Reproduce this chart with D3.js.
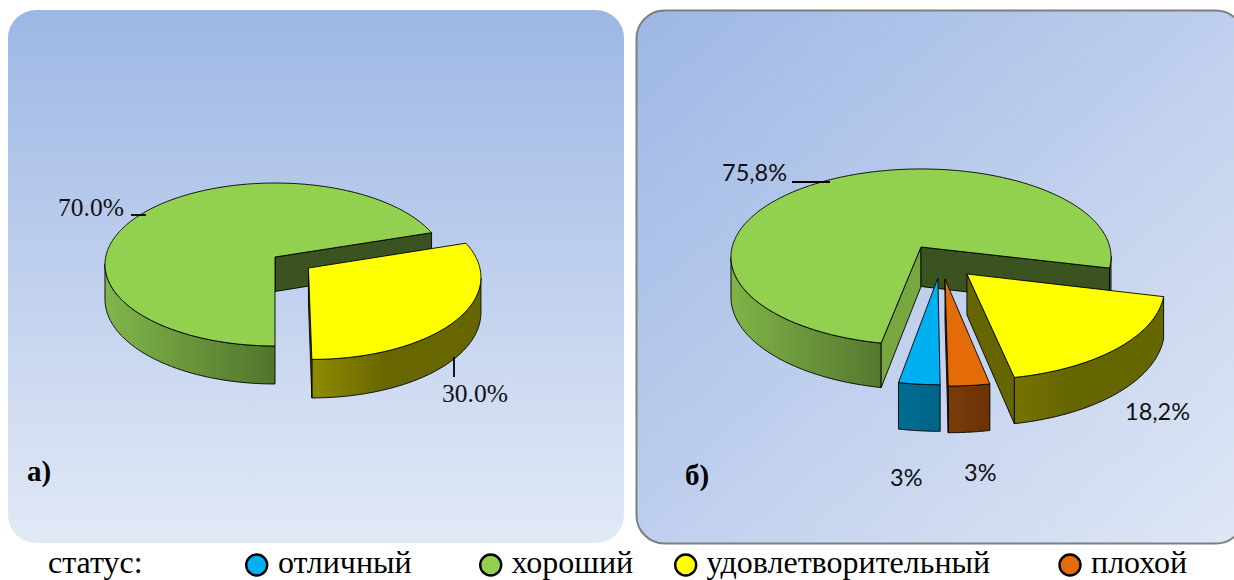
<!DOCTYPE html>
<html lang="ru">
<head>
<meta charset="utf-8">
<script src="https://cdn.jsdelivr.net/npm/d3@7"></script>
<style>
html,body{margin:0;padding:0;background:#fff;overflow:hidden}
svg{display:block}
</style>
</head>
<body>
<svg id="c" width="1234" height="580"></svg>
<script>
// ---- data ----
const categories = ["отличный", "хороший", "удовлетворительный", "плохой"];
const valuesA = [0, 70, 30, 0];
const valuesB = [3, 75.8, 18.2, 3];
const labelsA = ["", "70.0%", "30.0%", ""];
const labelsB = ["3%", "75,8%", "18,2%", "3%"];
const legendTitle = "статус:";
const colors = ["#00B0F0", "#92D050", "#FFFF00", "#E36C09"];

// ---- styling / layout ----
const serif = "'Liberation Serif','Times New Roman',serif";
const sans = "Lato,'Open Sans',sans-serif";
const charts = [
  { id:"a", values:valuesA, labels:labelsA, cx:275, cy:257, a:169.3, b:80.8, k:0.092, d:34.5,
    explode:[[0,0],[0,0],[0.195,0.135],[0,0]],
    labelPos:[null,[58,216],[442,402],null], font:serif, fontSize:25.5,
    leaders:[null,[131,215,146,215],[454,357,454,377],null],
    letter:"а)", letterPos:[27,481],
    grad:{1:[[105,"#82B54A"],[275,"#4F752B"]],2:[[310,"#918D00"],[385,"#686600"],[480,"#666600"]]} },
  { id:"b", values:valuesB, labels:labelsB, cx:921, cy:247, a:188.8, b:86.9, k:0.1136, d:39.5,
    explode:[[0.086,0.343],[0,0],[0.235,0.30],[0.122,0.354]],
    labelPos:[[890,485.5],[722,181],[1125,420],[964,481]], font:sans, fontSize:23.5,
    leaders:[null,[792,182,830,182],null,null],
    letter:"б)", letterPos:[685,485],
    grad:{0:[[899,"#006C90"],[940,"#006487"]],1:[[731,"#80B347"],[882,"#55782E"]],
          2:[[1015,"#767300"],[1065,"#666600"],[1160,"#666600"]],3:[[948,"#7C3C08"],[990,"#6A3206"]]} }
];
const innerWall = ["#00607F","#3A5320","#666600","#6A3206"];
const innerWallB1 = "#76A83F";

const svg = d3.select("#c");
const defs = svg.append("defs");

// panels
const gA = defs.append("linearGradient").attr("id","panelA").attr("x1",0).attr("y1",0).attr("x2",0).attr("y2",1);
gA.append("stop").attr("offset",0).attr("stop-color","#9DB7E5");
gA.append("stop").attr("offset",1).attr("stop-color","#E2E9F6");
const gB = defs.append("linearGradient").attr("id","panelB").attr("x1",0).attr("y1",0).attr("x2",1).attr("y2",1);
gB.append("stop").attr("offset",0).attr("stop-color","#9DB7E5");
gB.append("stop").attr("offset",1).attr("stop-color","#E0E7F5");
svg.append("rect").attr("x",8).attr("y",10).attr("width",616).attr("height",533).attr("rx",28).attr("fill","url(#panelA)");
svg.append("rect").attr("x",636.5).attr("y",10.5).attr("width",607.5).attr("height",533).attr("rx",28)
  .attr("fill","url(#panelB)").attr("stroke","#7F7F7F").attr("stroke-width",2);

const pie = d3.pie().sort(null).startAngle(Math.PI).endAngle(3*Math.PI);
const line = d3.line();

charts.forEach(ch => {
  const g = svg.append("g");
  const pt = (ang, r, off) => {
    const u = r*Math.sin(ang) + off[0], v = -r*Math.cos(ang) + off[1];
    const w = 1 - ch.k*v;
    return [ch.cx + ch.a*u/w, ch.cy + ch.b*v/w, ch.d/w];
  };
  const top = p => [p[0], p[1]];
  const bot = p => [p[0], p[1]+p[2]];

  const arcs = pie(ch.values).map((s,i)=>({...s,i})).filter(s=>s.value>0);
  // painter's order: big back slice first, then the exploded ones
  arcs.sort((p,q)=>(d3.sum(ch.explode[p.i])-d3.sum(ch.explode[q.i])));

  arcs.forEach(s => {
    const off = ch.explode[s.i];
    const n = Math.max(24, Math.round((s.endAngle-s.startAngle)*60));
    const angs = d3.range(n+1).map(j=>s.startAngle+(s.endAngle-s.startAngle)*j/n);
    const rim = angs.map(a=>pt(a,1,off));
    const c = pt(0,0,off);

    // outer wall: segments travelling leftward face the viewer
    const gradId = `w${ch.id}${s.i}`;
    const lg = defs.append("linearGradient").attr("id",gradId).attr("gradientUnits","userSpaceOnUse")
      .attr("x1",ch.grad[s.i][0][0]).attr("x2",ch.grad[s.i][ch.grad[s.i].length-1][0]).attr("y1",0).attr("y2",0);
    const x0=ch.grad[s.i][0][0], x1=ch.grad[s.i][ch.grad[s.i].length-1][0];
    ch.grad[s.i].forEach(st=>lg.append("stop").attr("offset",(st[0]-x0)/(x1-x0)).attr("stop-color",st[1]));

    let runs=[], cur=[];
    for(let j=0;j<n;j++){
      if(rim[j+1][0]<rim[j][0]){ if(!cur.length) cur.push(rim[j]); cur.push(rim[j+1]); }
      else if(cur.length){ runs.push(cur); cur=[]; }
    }
    if(cur.length) runs.push(cur);
    runs.forEach(r=>{
      const poly=[...r.map(top),...r.slice().reverse().map(bot)];
      g.append("path").attr("d",line(poly)+"Z").attr("fill",`url(#${gradId})`)
        .attr("stroke","#000").attr("stroke-width",0.9).attr("stroke-linejoin","round");
    });

    // radial faces
    const wallFill = (ch.id==="b"&&s.i===1) ? null : innerWall[s.i];
    const face=(p,q,fill)=>g.append("path").attr("d",line([top(p),top(q),bot(q),bot(p)])+"Z")
      .attr("fill",fill).attr("stroke","#000").attr("stroke-width",0.9).attr("stroke-linejoin","round");
    if(rim[0][0]<c[0]-0.5) face(c,rim[0], wallFill||innerWallB1);
    if(rim[n][0]>c[0]+0.5) face(c,rim[n], innerWall[s.i]);

    // top surface
    g.append("path").attr("d",line([top(c),...rim.map(top)])+"Z")
      .attr("fill",colors[s.i]).attr("stroke","#000").attr("stroke-width",0.9).attr("stroke-linejoin","round");
  });

  // leaders + labels
  ch.leaders.forEach(l=>{ if(l) g.append("line").attr("x1",l[0]).attr("y1",l[1]).attr("x2",l[2]).attr("y2",l[3])
      .attr("stroke","#000").attr("stroke-width",1.8); });
  ch.labels.forEach((t,i)=>{ if(t) g.append("text").attr("x",ch.labelPos[i][0]).attr("y",ch.labelPos[i][1])
      .attr("font-family",ch.font).attr("font-size",ch.fontSize).attr("fill","#111").text(t); });
  g.append("text").attr("x",ch.letterPos[0]).attr("y",ch.letterPos[1])
    .attr("font-family",serif).attr("font-weight","bold").attr("font-size",29).attr("fill","#000").text(ch.letter);
});

// legend
const legendY = 572.8;
const legendFont = 32;
const legendText = [278,511.5,706.5,1091];
const legendDot = [256.7,490.7,685.7,1070];
svg.append("text").attr("x",48).attr("y",legendY).attr("font-family",serif).attr("font-size",legendFont).text(legendTitle);
categories.forEach((c,i)=>{
  svg.append("circle").attr("cx",legendDot[i]).attr("cy",565).attr("r",10.5)
    .attr("fill",colors[i]).attr("stroke","#000").attr("stroke-width",2.4);
  svg.append("text").attr("x",legendText[i]).attr("y",legendY).attr("font-family",serif).attr("font-size",legendFont).text(c);
});
</script>
</body>
</html>
